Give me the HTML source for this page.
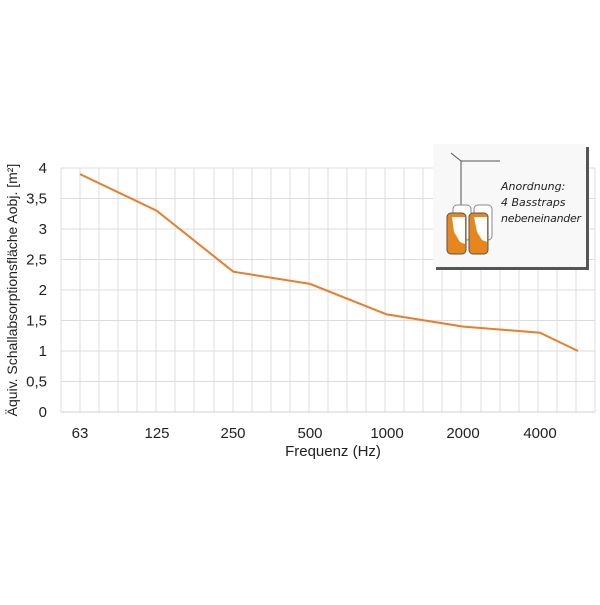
<!DOCTYPE html>
<html><head><meta charset="utf-8"><style>
body{margin:0;background:#fff;width:600px;height:600px;overflow:hidden}
</style></head><body>
<svg width="600" height="600" xmlns="http://www.w3.org/2000/svg" font-family="Liberation Sans, sans-serif">
<rect width="600" height="600" fill="#fff"/>
<g stroke="#dcdcdc" stroke-width="1">
<line x1="61" y1="168" x2="595" y2="168"/><line x1="61" y1="198.5" x2="595" y2="198.5"/><line x1="61" y1="229" x2="595" y2="229"/><line x1="61" y1="259.5" x2="595" y2="259.5"/><line x1="61" y1="290" x2="595" y2="290"/><line x1="61" y1="320.5" x2="595" y2="320.5"/><line x1="61" y1="351" x2="595" y2="351"/><line x1="61" y1="381.5" x2="595" y2="381.5"/>
<line x1="61" y1="168" x2="61" y2="412"/><line x1="80" y1="168" x2="80" y2="412"/><line x1="99" y1="168" x2="99" y2="412"/><line x1="118" y1="168" x2="118" y2="412"/><line x1="137" y1="168" x2="137" y2="412"/><line x1="156" y1="168" x2="156" y2="412"/><line x1="175" y1="168" x2="175" y2="412"/><line x1="194" y1="168" x2="194" y2="412"/><line x1="214" y1="168" x2="214" y2="412"/><line x1="233" y1="168" x2="233" y2="412"/><line x1="252" y1="168" x2="252" y2="412"/><line x1="271" y1="168" x2="271" y2="412"/><line x1="290" y1="168" x2="290" y2="412"/><line x1="309" y1="168" x2="309" y2="412"/><line x1="328" y1="168" x2="328" y2="412"/><line x1="347" y1="168" x2="347" y2="412"/><line x1="366" y1="168" x2="366" y2="412"/><line x1="385" y1="168" x2="385" y2="412"/><line x1="404" y1="168" x2="404" y2="412"/><line x1="423" y1="168" x2="423" y2="412"/><line x1="442" y1="168" x2="442" y2="412"/><line x1="461" y1="168" x2="461" y2="412"/><line x1="481" y1="168" x2="481" y2="412"/><line x1="500" y1="168" x2="500" y2="412"/><line x1="519" y1="168" x2="519" y2="412"/><line x1="538" y1="168" x2="538" y2="412"/><line x1="557" y1="168" x2="557" y2="412"/><line x1="576" y1="168" x2="576" y2="412"/><line x1="595" y1="168" x2="595" y2="412"/>
</g>
<line x1="61" y1="412" x2="595" y2="412" stroke="#d0d0d0"/>
<polyline fill="none" stroke="#e87d2a" stroke-width="2" points="80,174.1 156.7,210.7 233.3,271.7 310,283.9 386.7,314.4 463.3,326.6 540,332.7 578,351"/>
<g font-size="15" fill="#222" text-anchor="end">
<text x="47" y="173">4</text><text x="47" y="203.5">3,5</text><text x="47" y="234">3</text><text x="47" y="264.5">2,5</text><text x="47" y="295">2</text><text x="47" y="325.5">1,5</text><text x="47" y="356">1</text><text x="47" y="386.5">0,5</text><text x="47" y="417">0</text>
</g>
<g font-size="15" fill="#222" text-anchor="middle">
<text x="80" y="438">63</text><text x="157" y="438">125</text><text x="233" y="438">250</text><text x="310" y="438">500</text><text x="387" y="438">1000</text><text x="463" y="438">2000</text><text x="540" y="438">4000</text>
<text x="333" y="456">Frequenz (Hz)</text>
<text font-size="14" transform="translate(17,290) rotate(-90)">Äquiv. Schallabsorptionsfläche Aobj. [m²]</text>
</g>
<rect x="436" y="147" width="153" height="123" fill="#555"/>
<rect x="433" y="144" width="153" height="123" fill="#f8f8f8"/>
<polyline points="451,153 461,161 500,161" fill="none" stroke="#555"/>
<line x1="461" y1="161" x2="461" y2="205" stroke="#555"/>
<g stroke="#888" fill="#fff">
<rect x="453" y="205" width="18" height="35" rx="4"/><rect x="474" y="205" width="18" height="35" rx="4"/>
</g>
<g stroke="#555">
<rect x="447" y="213" width="19" height="41" rx="4" fill="#e8861e"/><rect x="469" y="213" width="19" height="41" rx="4" fill="#e8861e"/>
</g>
<path d="M448,217 L452,217 L454,232 L460,242 L465,244 L465,217Z M470,217 L474,217 L477,232 L482,240 L487,242 L487,217Z" fill="#fff"/>
<g font-size="11" font-style="italic" fill="#222" font-family="DejaVu Sans, sans-serif">
<text x="501" y="190">Anordnung:</text><text x="501" y="206">4 Basstraps</text><text x="501" y="222" textLength="80">nebeneinander</text>
</g>
</svg>
</body></html>
